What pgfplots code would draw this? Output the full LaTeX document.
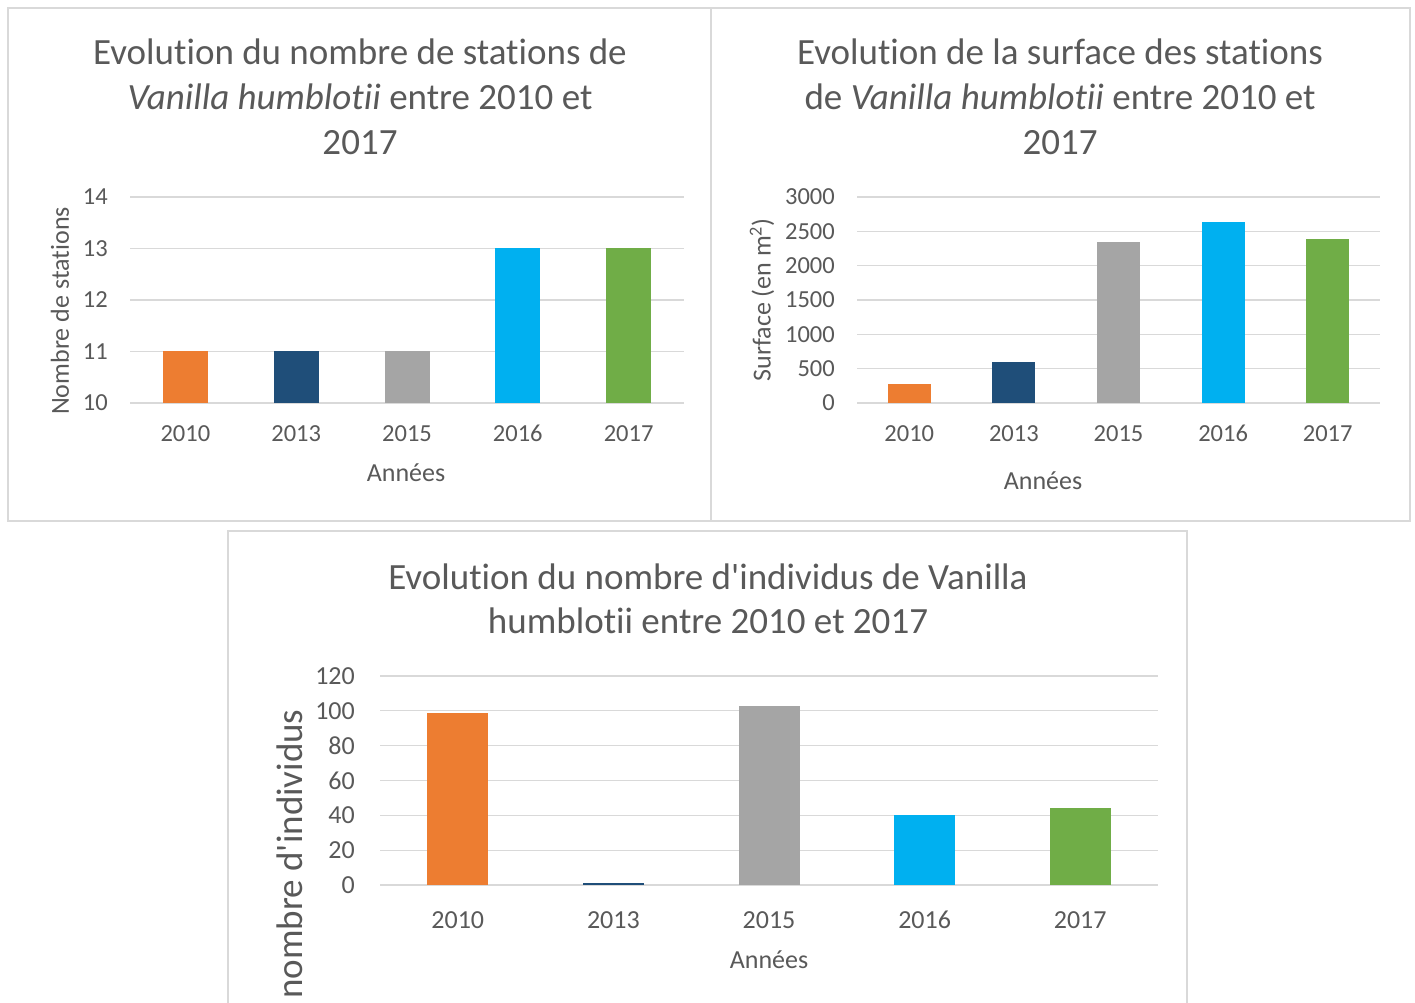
\documentclass[border=0pt]{standalone}
\usepackage{pgfplots}
\pgfplotsset{compat=1.18}
\usepackage{fontspec}
\setmainfont{Carlito}[Ligatures={NoCommon}]
\definecolor{txt}{HTML}{595959}
\definecolor{grd}{HTML}{D9D9D9}
\definecolor{c1}{HTML}{ED7D31}
\definecolor{c2}{HTML}{1F4E79}
\definecolor{c3}{HTML}{A5A5A5}
\definecolor{c4}{HTML}{00B0F0}
\definecolor{c5}{HTML}{70AD47}
\pgfplotsset{
 vbar/.style={
  scale only axis, anchor=south west,
  xmin=-0.5, xmax=4.5,
  xtick={0,1,2,3,4}, xticklabels={2010,2013,2015,2016,2017},
  major tick length=0pt,
  axis line style={draw=none},
  ymajorgrids, grid style={grd, line width=1.3pt},
  ybar,
  tick label style={txt, font=\fontsize{24.5}{28}\selectfont, inner sep=0pt},
  yticklabel style={anchor=east, xshift=-22pt},
  xticklabel style={anchor=base, yshift=-39pt},
  every axis plot/.append style={draw=none, bar shift=0pt},
 }
}
\newcommand{\tfont}{\fontsize{37}{45}\selectfont}
\newcommand{\lfont}{\fontsize{26}{30}\selectfont}
\begin{document}
\begin{tikzpicture}
\useasboundingbox (0,0) rectangle (1415pt,1002pt);
\fill[white] (0,0) rectangle (1415pt,1002pt);
% panels
\draw[grd, line width=2pt] (8pt,481pt) rectangle (711pt,994pt);
\draw[grd, line width=2pt] (711pt,481pt) rectangle (1410pt,994pt);
\draw[grd, line width=2pt] (228pt,-10pt) rectangle (1187pt,471pt);

% ---------- chart 1 ----------
\begin{axis}[vbar, at={(130pt,599pt)}, width=554pt, height=206pt,
  bar width=45pt, ymin=10, ymax=14, ytick={10,11,12,13,14}, yticklabels={10,11,12,13,14}]
\addplot[fill=c1] coordinates {(0,11)};
\addplot[fill=c2] coordinates {(1,11)};
\addplot[fill=c3] coordinates {(2,11)};
\addplot[fill=c4] coordinates {(3,13)};
\addplot[fill=c5] coordinates {(4,13)};
\end{axis}
\node[txt, font=\tfont] at (360pt,950pt) {Evolution du nombre de stations de};
\node[txt, font=\tfont] at (360pt,905pt) {\textit{Vanilla humblotii} entre 2010 et};
\node[txt, font=\tfont] at (360pt,859pt) {2017};
\node[txt, font=\lfont] at (406pt,529pt) {Années};
\node[txt, font=\lfont, rotate=90] at (60pt,691pt) {Nombre de stations};

% ---------- chart 2 ----------
\begin{axis}[vbar, at={(857pt,599pt)}, width=523pt, height=206pt,
  bar width=43pt, ymin=0, ymax=3000, ytick={0,500,1000,1500,2000,2500,3000},
  yticklabels={0,500,1000,1500,2000,2500,3000}]
\addplot[fill=c1] coordinates {(0,270)};
\addplot[fill=c2] coordinates {(1,600)};
\addplot[fill=c3] coordinates {(2,2350)};
\addplot[fill=c4] coordinates {(3,2630)};
\addplot[fill=c5] coordinates {(4,2390)};
\end{axis}
\node[txt, font=\tfont] at (1060pt,950pt) {Evolution de la surface des stations};
\node[txt, font=\tfont] at (1060pt,905pt) {de \textit{Vanilla humblotii} entre 2010 et};
\node[txt, font=\tfont] at (1060pt,859pt) {2017};
\node[txt, font=\lfont] at (1043pt,521pt) {Années};
\node[txt, font=\lfont, rotate=90] at (762pt,702pt) {Surface (en m\textsuperscript{2})};

% ---------- chart 3 ----------
\begin{axis}[vbar, at={(380pt,117pt)}, width=778pt, height=209pt,
  bar width=61pt, ymin=0, ymax=120, ytick={0,20,40,60,80,100,120},
  yticklabels={0,20,40,60,80,100,120},
  tick label style={font=\fontsize{26}{30}\selectfont},
  yticklabel style={xshift=-3pt},
  xticklabel style={yshift=-4pt}]
\addplot[fill=c1] coordinates {(0,99)};
\addplot[fill=c2] coordinates {(1,1)};
\addplot[fill=c3] coordinates {(2,103)};
\addplot[fill=c4] coordinates {(3,40)};
\addplot[fill=c5] coordinates {(4,44)};
\end{axis}
\node[txt, font=\tfont] at (708pt,425pt) {Evolution du nombre d\textquotesingle individus de Vanilla};
\node[txt, font=\tfont] at (708pt,381pt) {humblotii entre 2010 et 2017};
\node[txt, font=\lfont] at (769pt,42pt) {Années};
\node[txt, font=\tfont, rotate=90] at (290pt,148pt) {nombre d\textquotesingle individus};
\end{tikzpicture}
\end{document}
